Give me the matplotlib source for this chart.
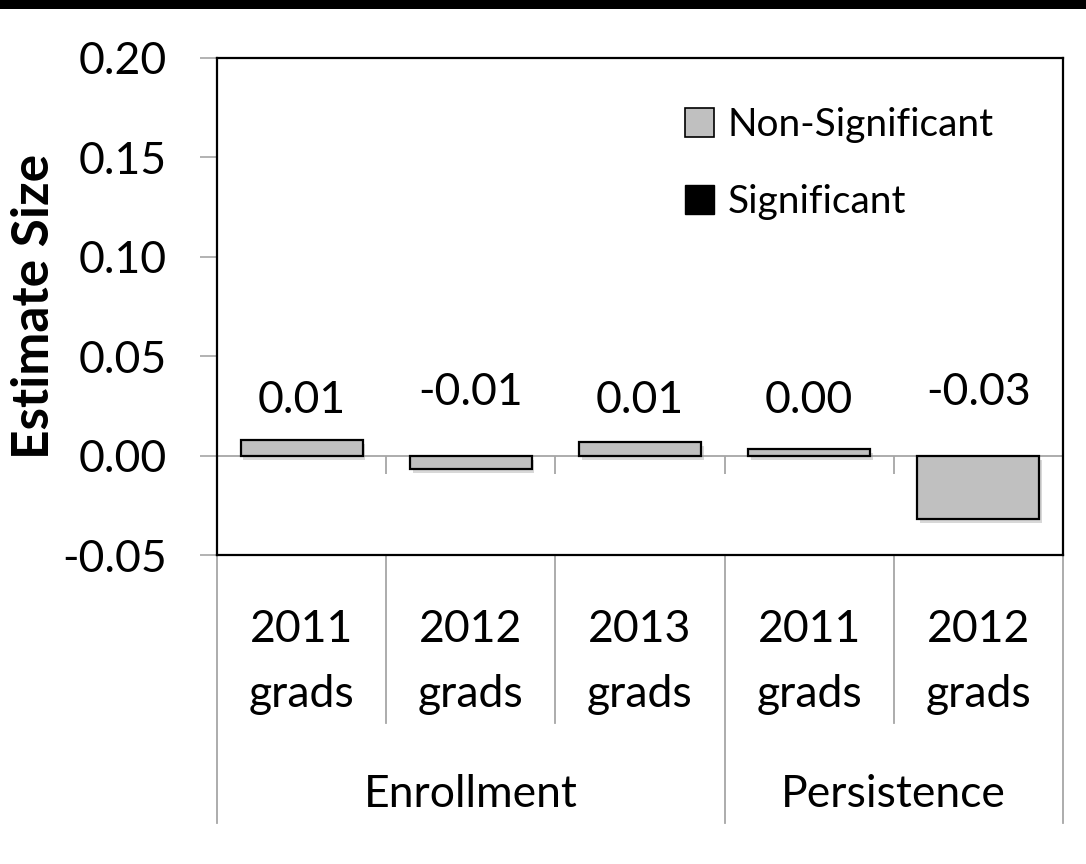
import matplotlib
matplotlib.use("Agg")
import matplotlib.pyplot as plt
import matplotlib.patheffects as pe
from matplotlib.patches import Patch, Rectangle

# Data
years = ["2011", "2012", "2013", "2011", "2012"]
groups = ["Enrollment", "Persistence"]
group_sizes = [3, 2]
estimates = [0.008, -0.0066, 0.007, 0.0032, -0.032]
value_labels = ["0.01", "-0.01", "0.01", "0.00", "-0.03"]
yticks = [-0.05, 0.00, 0.05, 0.10, 0.15, 0.20]

plt.rcParams["font.family"] = ["Lato", "DejaVu Sans"]

fig = plt.figure(figsize=(10.86, 8.64), dpi=100)
ax = fig.add_axes([217 / 1086, 1 - 555 / 864, 846 / 1086, 497 / 864])

# black band at the top
fig.patches.append(Rectangle((0, 1 - 9 / 864), 1, 9 / 864, transform=fig.transFigure,
                             facecolor="black", edgecolor="none"))

grey = "#a6a6a6"
x = list(range(len(estimates)))
shadow = [pe.SimplePatchShadow(offset=(2, -3), shadow_rgbFace="#909090", alpha=0.35), pe.Normal()]
bars = ax.bar(x, estimates, width=0.72, color="#c0c0c0", edgecolor="black", linewidth=1.6, zorder=3)
for b in bars:
    b.set_path_effects(shadow)

ax.axhline(0, color=grey, linewidth=1.3, zorder=2)
# category tick marks on the zero line
ax.vlines([i + 0.5 for i in x], -0.0091, 0, color=grey, linewidth=1.3, zorder=2)

for xi, v, lab in zip(x, estimates, value_labels):
    ypos = 0.0213 if v >= 0 else 0.0253
    ax.text(xi, ypos, lab, ha="center", va="baseline", fontsize=32, color="black")

ax.set_xlim(-0.5, len(estimates) - 0.5)
ax.set_ylim(-0.05, 0.20)
ax.set_yticks(yticks)
ax.set_yticklabels([f"{t:.2f}" for t in yticks], fontsize=32)
ax.tick_params(axis="y", direction="out", length=12, width=1.2, color=grey, pad=24)
ax.set_xticks([])
for s in ax.spines.values():
    s.set_linewidth(1.6)
    s.set_color("black")

ax.set_ylabel("Estimate Size", fontsize=37, fontweight="bold", labelpad=3)

# multi-level category axis below the plot
tr = ax.get_xaxis_transform()
bounds = [-0.5]
for n in group_sizes:
    bounds.append(bounds[-1] + n)
for i in range(len(estimates) + 1):
    xb = i - 0.5
    low = -0.539 if xb in bounds else -0.338
    ax.plot([xb, xb], [0, low], transform=tr, color=grey, linewidth=1.3, clip_on=False)
for xi, yr in zip(x, years):
    ax.text(xi, -0.175, yr, transform=tr, ha="center", va="baseline", fontsize=32)
    ax.text(xi, -0.306, "grads", transform=tr, ha="center", va="baseline", fontsize=32)
for g, a, b in zip(groups, bounds[:-1], bounds[1:]):
    ax.text((a + b) / 2, -0.507, g, transform=tr, ha="center", va="baseline", fontsize=32)

handles = [Patch(facecolor="#c0c0c0", edgecolor="black", linewidth=1.2, label="Non-Significant"),
           Patch(facecolor="black", edgecolor="black", label="Significant")]
ax.legend(handles=handles, loc="upper left", bbox_to_anchor=(0.553, 0.901), frameon=False,
          fontsize=28, handlelength=0.75, handleheight=0.75, handletextpad=0.34,
          labelspacing=1.05, borderpad=0, borderaxespad=0)

fig.savefig("out.png", dpi=100)
